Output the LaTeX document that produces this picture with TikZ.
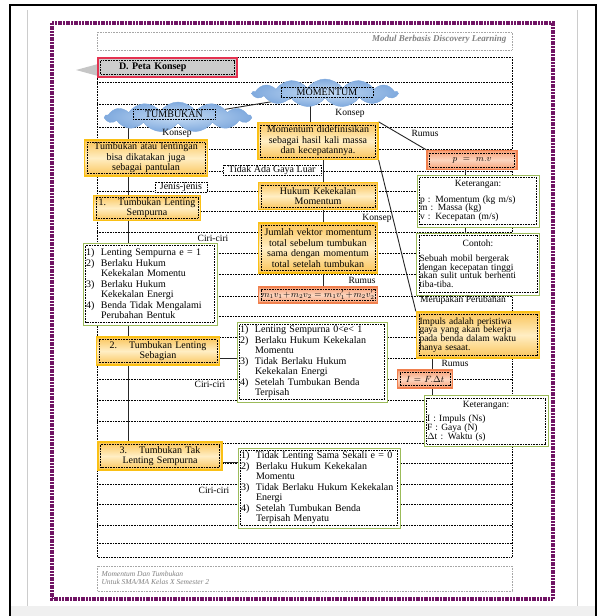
\documentclass[tikz,border=0pt]{standalone}
\usepackage{fontspec}
\setmainfont{Liberation Serif}
\usetikzlibrary{shapes.symbols}
\pgfdeclarelayer{bg}
\pgfsetlayers{bg,main}

\definecolor{ungu}{RGB}{112,20,100}
\definecolor{emas}{RGB}{250,192,20}
\definecolor{kuningtua}{RGB}{250,196,88}
\definecolor{kuningmuda}{RGB}{255,238,196}
\definecolor{jinggatepi}{RGB}{240,128,78}
\definecolor{jinggatua}{RGB}{247,158,116}
\definecolor{jinggamuda}{RGB}{252,214,192}
\definecolor{hijau}{RGB}{155,187,89}
\definecolor{awan}{RGB}{128,170,222}
\definecolor{awanmuda}{RGB}{198,220,244}
\definecolor{merah}{RGB}{228,50,80}

\newcommand{\nom}[1]{\makebox[15pt][l]{#1}}

\tikzstyle{titik}=[path picture={\draw[black,line width=.6pt,dash pattern=on .8pt off .8pt]
  ([shift={(2.5pt,-2.5pt)}]path picture bounding box.north west) rectangle
  ([shift={(-2.5pt,2.5pt)}]path picture bounding box.south east);}]
\tikzstyle{kotakkuning}=[titik,draw=emas,line width=1.3pt,top color=kuningtua,bottom color=kuningtua,middle color=kuningmuda,align=center,inner sep=3pt,font=\fontsize{10}{10.5}\selectfont]
\tikzstyle{kotakjingga}=[titik,draw=jinggatepi,line width=1.2pt,top color=jinggatua,bottom color=jinggatua,middle color=jinggamuda,align=center,inner sep=3pt,font=\fontsize{9}{10}\selectfont]
\tikzstyle{kotakhijau}=[titik,draw=hijau,line width=1pt,fill=white,align=left,inner sep=3pt,font=\fontsize{10}{10.5}\selectfont]
\tikzstyle{kecil}=[font=\fontsize{9.5}{8.7}\selectfont]
\tikzstyle{kotakabu}=[titik,draw=merah,line width=1.2pt,fill=gray!40,align=left,inner sep=3pt,font=\fontsize{10}{11}\selectfont\bfseries]
\tikzstyle{awanbiru}=[cloud,cloud puffs=13,cloud puff arc=110,cloud ignores aspect,inner color=awanmuda,outer color=awan,draw=awan]
\tikzstyle{labelawan}=[draw=black,dash pattern=on .8pt off .8pt,inner sep=1.5pt,minimum height=10,font=\fontsize{10}{10}\selectfont]
\tikzstyle{labelkotak}=[draw=black,dash pattern=on .8pt off .8pt,fill=white,inner sep=.5pt,font=\fontsize{10}{10}\selectfont]
\tikzstyle{ket}=[inner sep=0pt,font=\fontsize{9.5}{10}\selectfont]
\tikzstyle{garis}=[black,line width=.7pt,dash pattern=on .7pt off .9pt]
\tikzstyle{hubung}=[black!85,line width=.9pt]

\begin{document}
\begin{tikzpicture}[x=1pt,y=-1pt]
\useasboundingbox (0,0) rectangle (600,616);
% halaman
\fill[gray!12] (10,606) rectangle (596,616);
\draw[gray!40] (27,10) -- (27,606);
\draw[gray!40] (577,10) -- (577,606);
\draw[black,line width=1.2pt] (10,616) -- (10,5) -- (596,5) -- (596,616);
\draw[ungu,line width=3.4pt,dash pattern=on 2pt off .7pt] (52,23) rectangle (553,599);
\draw[gray!70,dash pattern=on .8pt off .8pt] (97,32) rectangle (512,50);
\node[font=\fontsize{9}{9}\selectfont\bfseries\itshape,text=gray,anchor=east] (judul) at (510,39) {Modul Berbasis Discovery Learning};
\draw[gray!70,dash pattern=on .8pt off .8pt] (97,566) rectangle (512,591);
\node[font=\fontsize{7.5}{8.5}\selectfont\itshape,text=gray,anchor=west,align=left] (kaki) at (98,578) {Momentum Dan Tumbukan\\Untuk SMA/MA Kelas X Semester 2};
\fill[gray!45] (76,70) -- (98,64) -- (98,76) -- cycle;

% baris
\begin{pgfonlayer}{bg}
\foreach \y in {82,104,127,149,171,191,211,232,253,274,296,316,337,358,379,400,421,443,463,484,504,525,543}
  \draw[garis] (97,\y) -- (512,\y);
\draw[garis] (97,57) rectangle (512,557);
\end{pgfonlayer}

\node[kotakabu,minimum width=139,minimum height=19,text width=133] (peta) at (167.5,67.5) {\hspace*{18pt}D. Peta Konsep};

% awan
\node[awanbiru,minimum width=145,minimum height=28] (momentum) at (325,93) {};
\node[labelawan,minimum width=92] (lmomentum) at (327,92) {MOMENTUM};
\node[awanbiru,minimum width=146,minimum height=30] (tumbukan) at (178,117) {};
\node[labelawan,minimum width=82] (ltumbukan) at (174,114) {TUMBUKAN};

% kiri
\node[ket] (konsep1) at (177,133) {Konsep};
\node[kotakkuning,text width=117,minimum height=33] (pantulan) at (146,158) {Tumbukan atau lentingan\\bisa dikatakan juga\\sebagai pantulan};
\node[labelkotak,minimum width=52] (jenis) at (181,187) {Jenis-jenis};
\node[kotakkuning,text width=101,minimum height=23] (lenting) at (147,208) {1.\hspace{12pt}Tumbukan Lenting\\Sempurna};
\node[ket] (ciri1) at (213,238) {Ciri-ciri};
\node[kotakhijau,text width=128,minimum height=82] (ciriA) at (150,284) {\nom{1)}Lenting Sempurna e = 1\\
\nom{2)}Berlaku Hukum\\
\nom{}Kekekalan Momentu\\
\nom{3)}Berlaku Hukum\\
\nom{}Kekekalan Energi\\
\nom{4)}Benda Tidak Mengalami\\
\nom{}Perubahan Bentuk};
\node[kotakkuning,text width=117,minimum height=28] (sebagian) at (158,351) {2.\hspace{12pt}Tumbukan Lenting\\Sebagian};
\node[ket] (ciri2) at (210,384) {Ciri-ciri};
\node[kotakhijau,text width=144,minimum height=80] (ciriB) at (312,362) {\nom{1)}Lenting Sempurna 0<e< 1\\
\nom{2)}Berlaku Hukum Kekekalan\\
\nom{}Momentu\\
\nom{3)}Tidak Berlaku Hukum\\
\nom{}Kekekalan Energi\\
\nom{4)}Setelah Tumbukan Benda\\
\nom{}Terpisah};
\node[kotakkuning,text width=118,minimum height=28] (taklenting) at (160,456) {3.\hspace{12pt}Tumbukan Tak\\Lenting Sempurna};
\node[ket] (ciri3) at (214,490) {Ciri-ciri};
\node[kotakhijau,text width=156,minimum height=80] (ciriC) at (319,488) {\nom{1)}Tidak Lenting Sama Sekali e = 0\\
\nom{2)}Berlaku Hukum Kekekalan\\
\nom{}Momentu\\
\nom{3)}Tidak Berlaku Hukum Kekekalan\\
\nom{}Energi\\
\nom{4)}Setelah Tumbukan Benda\\
\nom{}Terpisah Menyatu};

% tengah
\node[ket] (konsep2) at (350,113) {Konsep};
\node[kotakkuning,text width=114,minimum height=37] (definisi) at (318,141) {Momentum didefinisikan\\sebagai hasil kali massa\\dan kecepatannya.};
\node[labelkotak,minimum width=98] (gaya) at (272,170) {Tidak Ada Gaya Luar};
\node[kotakkuning,text width=113,minimum height=27] (hukum) at (318,196) {Hukum Kekekalan\\Momentum};
\node[ket] (konsep3) at (377,218) {Konsep};
\node[kotakkuning,text width=113,minimum height=50] (jumlah) at (318,248) {Jumlah vektor momentum\\total sebelum tumbukan\\sama dengan momentum\\total setelah tumbukan};
\node[ket] (rumus2) at (362,280) {Rumus};
\node[kotakjingga,text width=113,minimum height=16] (kekal) at (318,295) {$m_1v_1+m_2v_2=m_1v_1'+m_2v_2'$};

% kanan
\node[ket] (rumus1) at (425,133) {Rumus};
\node[kotakjingga,text width=84,minimum height=19] (pmv) at (472,160) {$p = m.v$};
\node[kotakhijau,kecil,text width=116,minimum height=52] (ket1) at (478,201) {\makebox[\linewidth]{Keterangan:}\\[7pt]
p : Momentum (kg m/s)\\
m : Massa (kg)\\
v : Kecepatan (m/s)};
\node[kotakhijau,kecil,text width=117,minimum height=62] (contoh) at (478,264) {\makebox[\linewidth]{Contoh:}\\[6pt]
Sebuah mobil bergerak\\
dengan kecepatan tinggi\\
akan sulit untuk berhenti\\
tiba-tiba.};
\node[ket] (merupakan) at (463,300) {Merupakan Perubahan};
\node[kotakkuning,kecil,text width=117,minimum height=46,align=left] (impuls) at (478,335) {Impuls adalah peristiwa\\gaya yang akan bekerja\\pada benda dalam waktu\\hanya sesaat.};
\node[ket] (rumus3) at (455,363) {Rumus};
\node[kotakjingga,text width=49,minimum height=18] (ift) at (425,379) {$I = F.\Delta t$};
\node[kotakhijau,kecil,text width=118,minimum height=51] (ket2) at (486,421) {\makebox[\linewidth]{Keterangan:}\\[6pt]
I : Impuls (Ns)\\
F : Gaya (N)\\
$\Delta$t : Waktu (s)};

% garis hubung
\begin{pgfonlayer}{bg}
\coordinate (kiri) at (128,117);
\draw[hubung] (tumbukan) -- (momentum);
\draw[hubung] (kiri) -- (kiri |- taklenting.north);
\draw[hubung] ([yshift=-7pt]sebagian.east) -- ([yshift=-7pt]sebagian.east -| ciriB.west);
\draw[hubung] ([yshift=-6pt]taklenting.east) -- ([yshift=-6pt]taklenting.east -| ciriC.west);
\draw[hubung] ([xshift=-8pt]definisi.north) -- ([xshift=-8pt]definisi.north |- momentum.center);
\draw[hubung] ([xshift=5pt]definisi.south) -- ([xshift=5pt]definisi.south |- kekal.north);
\draw[hubung] (definisi.north east) -- (pmv.north west);
\draw[hubung] (definisi.south east) -- (impuls.north west);
\draw[hubung] ([xshift=-7pt]pmv.south) -- ([xshift=-7pt]pmv.south |- contoh.north);
\draw[hubung] ([xshift=-46pt]impuls.south) -- ([xshift=-46pt]impuls.south |- ket2.north);
\end{pgfonlayer}
\end{tikzpicture}
\end{document}
